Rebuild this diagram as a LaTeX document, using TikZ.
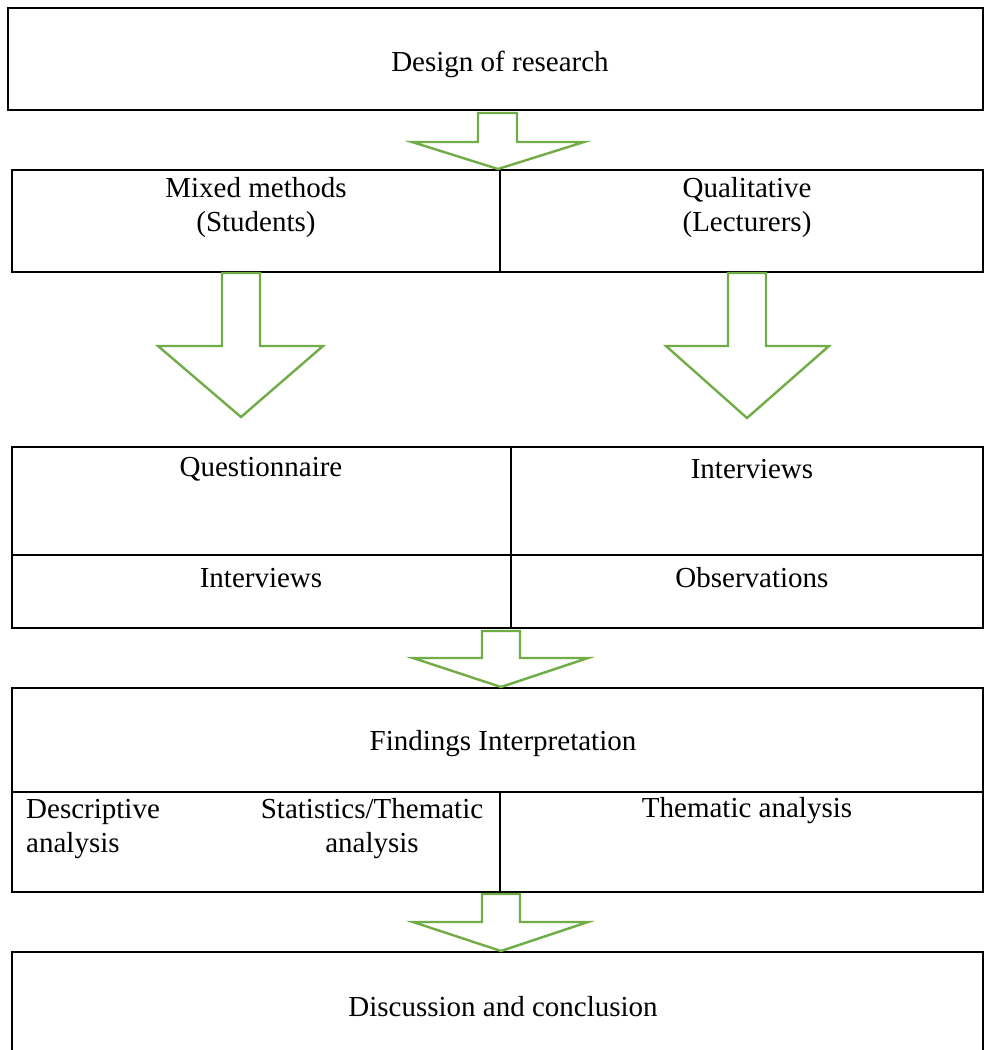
\documentclass[tikz,border=0pt]{standalone}
\usepackage{fontspec}
\setmainfont{Liberation Serif}
\usepackage{tikz}
\usetikzlibrary{positioning}
\definecolor{arrowgreen}{RGB}{112,173,71}

\tikzset{
  cell/.style={font=\fontsize{29}{34}\selectfont, align=center, inner sep=0pt},
  blk/.style={draw=black, line width=1.8pt},
  grn/.style={draw=arrowgreen, line width=2.4pt, fill=white, line join=miter}
}

\begin{document}
\begin{tikzpicture}[x=1pt,y=-1pt]
\useasboundingbox (0,0) rectangle (984,1050);

% boxes
\draw[blk] (8,8) rectangle (983,110);
\draw[blk] (12,170) rectangle (983,272);
\draw[blk] (500,170) -- (500,272);
\draw[blk] (12,447) rectangle (983,628);
\draw[blk] (12,555) -- (983,555);
\draw[blk] (511,447) -- (511,628);
\draw[blk] (12,688) rectangle (983,892);
\draw[blk] (12,792) -- (983,792);
\draw[blk] (500,792) -- (500,892);
\draw[blk] (12,952) rectangle (983,1052);

% arrows
\draw[grn] (478,113) -- (517,113) -- (517,142) -- (584,142) -- (498,169)
  -- (412,142) -- (478,142) -- cycle;
\draw[grn] (222,273) -- (260,273) -- (260,346) -- (323,346) -- (241,417)
  -- (158,346) -- (222,346) -- cycle;
\draw[grn] (728,273) -- (766,273) -- (766,346) -- (829,346) -- (747,418)
  -- (666,346) -- (728,346) -- cycle;
\draw[grn] (482,631) -- (520,631) -- (520,658) -- (588,658) -- (501,687)
  -- (413,658) -- (482,658) -- cycle;
\draw[grn] (482,894) -- (520,894) -- (520,922) -- (588,922) -- (501,951)
  -- (413,922) -- (482,922) -- cycle;

% texts
\node[cell] (design) at (500,64) {Design of research};
\node[cell] (mixed) at (256,208) {Mixed methods\\(Students)};
\node[cell] (quali) at (747,208) {Qualitative\\(Lecturers)};
\node[cell] (quest) at (261,469) {Questionnaire};
\node[cell] (intv1) at (752,469) {Interviews};
\node[cell] (intv2) at (261,578) {Interviews};
\node[cell] (observ) at (752,578) {Observations};
\node[cell] (findings) at (503,744) {Findings Interpretation};
\node[cell, align=left, anchor=west] (descr) at (26,829) {Descriptive\\analysis};
\node[cell] (stats) at (372,829) {Statistics/Thematic\\analysis};
\node[cell] (thematic) at (747,811) {Thematic analysis};
\node[cell] (discuss) at (503,1007) {Discussion and conclusion};
\end{tikzpicture}
\end{document}
